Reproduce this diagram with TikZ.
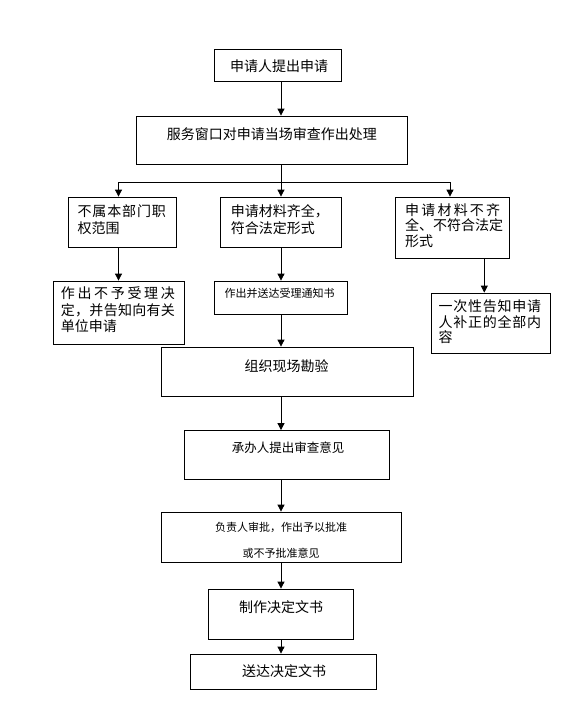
\documentclass[tikz,border=0pt]{standalone}
\usepackage{fontspec}
\newfontfamily\cjk{Noto Sans CJK SC}
\usepackage{tikz}
\usetikzlibrary{arrows.meta}
\def\spreadchars#1{\ifx\relax#1\else #1\hfil\expandafter\spreadchars\fi}
\newcommand\spreadline[2]{\makebox[#1][s]{\spreadchars#2\relax\unskip}}

\begin{document}
\begin{tikzpicture}[x=1pt,y=-1pt]
        \tikzstyle{box}=[draw, line width=0.8pt, inner sep=0pt]
        \tikzstyle{txt}=[anchor=west, inner sep=0pt, align=left, font=\cjk\fontsize{14}{16.5}\selectfont]
        \tikzstyle{mid}=[font=\cjk\fontsize{12.5}{16}\selectfont]
        \tikzstyle{small}=[font=\cjk\fontsize{11}{26}\selectfont]
        \tikzstyle{arr}=[-{Triangle[length=7pt,width=7pt]}, line width=0.8pt]

        \useasboundingbox (0,0) rectangle (580,723);

        \node[box, minimum width=127pt, minimum height=32pt] (apply)      at (277.5,65)  {};
        \node[box, minimum width=271pt, minimum height=48pt] (check)      at (271.5,140) {};
        \node[box, minimum width=108pt, minimum height=50pt] (outside)    at (122,222)   {};
        \node[box, minimum width=121pt, minimum height=50pt] (complete)   at (280.5,222) {};
        \node[box, minimum width=114pt, minimum height=61pt] (incomplete) at (452,227.5) {};
        \node[box, minimum width=131pt, minimum height=63pt] (reject)     at (118.5,312.5) {};
        \node[box, minimum width=133pt, minimum height=33pt] (notice)     at (280.8,297.5) {};
        \node[box, minimum width=119pt, minimum height=60pt] (supplement) at (490.5,323) {};
        \node[box, minimum width=252pt, minimum height=49pt] (survey)     at (287,371.5) {};
        \node[box, minimum width=205pt, minimum height=49pt] (opinion)    at (286.8,455) {};
        \node[box, minimum width=240pt, minimum height=50pt] (approve)    at (281,537)   {};
        \node[box, minimum width=145pt, minimum height=50pt] (draft)      at (280.5,614) {};
        \node[box, minimum width=186pt, minimum height=35pt] (deliver)    at (283,671.5) {};

        \node[txt] (apply-t)      at (230,65.7)   {申请人提出申请};
        \node[txt] (check-t)      at (166.7,134)  {服务窗口对申请当场审查作出处理};
        \node[txt, font=\cjk\fontsize{14}{17}\selectfont] (outside-t) at (77.3,219.2) {\spreadline{88.4pt}{不属本部门职}\\权范围};
        \node[txt, font=\cjk\fontsize{14}{17}\selectfont] (complete-t) at (230.7,219.5) {申请材料齐全，\\符合法定形式};
        \node[txt, font=\cjk\fontsize{14}{15.4}\selectfont] (incomplete-t) at (405,225.5) {\spreadline{95pt}{申请材料不齐}\\全、不符合法定\\形式};
        \node[txt] (reject-t)     at (60.7,310)   {\spreadline{114pt}{作出不予受理决}\\\spreadline{114pt}{定，并告知向有关}\\单位申请};
        \node[txt, small] (notice-t) at (224.3,293) {作出并送达受理通知书};
        \node[txt, font=\cjk\fontsize{14}{15.8}\selectfont] (supplement-t) at (438.3,321.7) {\spreadline{102.7pt}{一次性告知申请}\\\spreadline{102.7pt}{人补正的全部内}\\容};
        \node[txt] (survey-t)     at (244.3,366)  {组织现场勘验};
        \node[txt, mid] (opinion-t) at (231.7,448) {承办人提出审查意见};
        \node[txt, small, anchor=center, align=center] (approve-t) at (281,540) {负责人审批，作出予以批准\\或不予批准意见};
        \node[txt] (draft-t)      at (239,607)    {制作决定文书};
        \node[txt] (deliver-t)    at (242,671)    {送达决定文书};

        \coordinate (fork) at (281,182);
        \coordinate (axis) at (281,0);
        \coordinate (side) at (484.3,0);

        \draw[arr] (apply.south -| fork) -- (fork |- check.north);
        \draw[line width=0.8pt] (check.south -| fork) -- (fork);
        \draw[arr] (fork) -| (reject.north |- outside.north);
        \draw[arr] (fork) -- (fork |- complete.north);
        \draw[arr] (fork) -| ([xshift=-2pt]incomplete.north);
        \draw[arr] (reject.north |- outside.south) -- (reject.north);
        \draw[arr] (axis |- complete.south) -- (axis |- notice.north);
        \draw[arr] (side |- incomplete.south) -- (side |- supplement.north);
        \draw[arr] (axis |- notice.south) -- (axis |- survey.north);
        \draw[arr] (axis |- survey.south) -- (axis |- opinion.north);
        \draw[arr] (axis |- opinion.south) -- (axis |- approve.north);
        \draw[arr] (axis |- approve.south) -- (axis |- draft.north);
        \draw[arr] (axis |- draft.south) -- (axis |- deliver.north);
\end{tikzpicture}
\end{document}
